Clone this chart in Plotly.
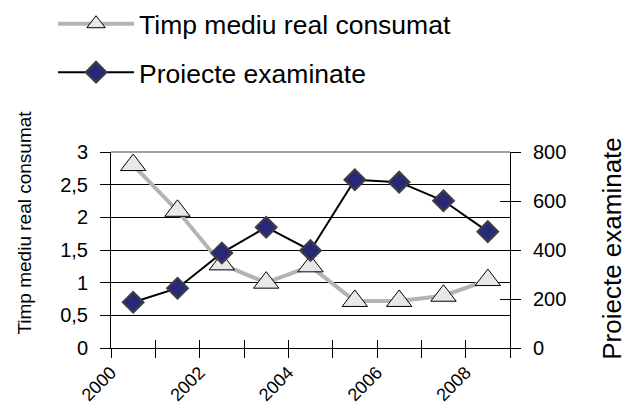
import plotly.graph_objects as go

years = [2000, 2001, 2002, 2003, 2004, 2005, 2006, 2007, 2008]
timp_mediu = [2.8, 2.1, 1.28, 1.0, 1.25, 0.72, 0.72, 0.8, 1.04]
proiecte = [187, 244, 388, 493, 398, 687, 677, 601, 475]

x_tick_vals = list(range(2000, 2010))
x_tick_text = [str(v) if v % 2 == 0 else "" for v in x_tick_vals]
left_ticks = [0, 0.5, 1, 1.5, 2, 2.5, 3]
left_tick_text = ["0", "0,5", "1", "1,5", "2", "2,5", "3"]
right_ticks = [0, 200, 400, 600, 800]

FONT = "Liberation Sans, Arial, sans-serif"
xs = [y + 0.5 for y in years]

W, H = 624, 406

fig = go.Figure()
fig.add_trace(go.Scatter(
    x=xs, y=timp_mediu, name="Timp mediu real consumat",
    mode="lines+markers", legendgroup="a",
    line=dict(color="#B4B4B4", width=4),
    marker=dict(symbol="triangle-up", size=22, color="#E8E8E8",
                line=dict(color="#000000", width=1)),
    xaxis="x", yaxis="y",
))
fig.add_trace(go.Scatter(
    x=xs, y=proiecte, name="Proiecte examinate",
    mode="lines+markers", legendgroup="b",
    line=dict(color="#000000", width=2),
    marker=dict(symbol="diamond", size=16, color="#282878",
                line=dict(color="#404040", width=2)),
    xaxis="x", yaxis="y2",
))

fig.update_layout(
    width=W, height=H,
    margin=dict(l=111, r=114, t=152, b=58, autoexpand=False),
    paper_bgcolor="white", plot_bgcolor="white",
    font=dict(family=FONT, color="black", size=20),
    showlegend=True,
    legend=dict(
        xref="container", yref="container", x=0.085, y=1.0,
        xanchor="left", yanchor="top",
        font=dict(size=26.5, family=FONT),
        traceorder="grouped", tracegroupgap=11,
        itemwidth=76, bgcolor="rgba(0,0,0,0)",
    ),
    xaxis=dict(
        range=[2000, 2009], tickmode="array", tickvals=x_tick_vals,
        ticktext=x_tick_text, tickangle=-45, ticks="outside", ticklen=9,
        tickcolor="black", showline=True, linecolor="black", linewidth=1,
        showgrid=False, zeroline=False, tickfont=dict(size=18),
        ticklabelstandoff=-3,
    ),
    xaxis2=dict(
        range=[2000, 2009], overlaying="x", tickmode="array",
        tickvals=x_tick_vals, showticklabels=False, ticks="inside",
        ticklen=8, tickcolor="black", showgrid=False, zeroline=False,
        showline=False,
    ),
    yaxis=dict(
        range=[0, 3], tickmode="array", tickvals=left_ticks,
        ticktext=left_tick_text, ticks="outside", ticklen=10, tickcolor="black",
        showline=True, linecolor="black", linewidth=1,
        showgrid=True, gridcolor="black", gridwidth=1, zeroline=False,
        tickfont=dict(size=20), ticklabelstandoff=8,
    ),
    yaxis2=dict(
        range=[0, 800], overlaying="y", side="right", tickmode="array",
        tickvals=right_ticks, ticks="outside", ticklen=10, tickcolor="black",
        showline=True, linecolor="black", linewidth=1, showgrid=False,
        zeroline=False, tickfont=dict(size=20), ticklabelstandoff=8,
    ),
    yaxis3=dict(
        range=[0, 800], overlaying="y", side="right", tickmode="array",
        tickvals=right_ticks, ticks="inside", ticklen=10, tickcolor="black",
        showticklabels=False, showline=False, showgrid=False, zeroline=False,
    ),
    shapes=[dict(type="line", xref="paper", yref="paper", x0=0, x1=1,
                 y0=1, y1=1, line=dict(color="#A0A0A0", width=2),
                 layer="between")],
    annotations=[
        dict(text="Timp mediu real consumat", xref="paper", yref="paper",
             x=-0.2155, y=0.64, textangle=-90, showarrow=False,
             font=dict(size=19, family=FONT), xanchor="center",
             yanchor="middle"),
        dict(text="Proiecte examinate", xref="paper", yref="paper",
             x=1.255, y=0.51, textangle=-90, showarrow=False,
             font=dict(size=26, family=FONT), xanchor="center",
             yanchor="middle"),
    ],
)

# dummy trace to activate overlay tick axes
fig.add_trace(go.Scatter(x=[None], y=[None], xaxis="x2", yaxis="y3",
                         showlegend=False, hoverinfo="skip"))

fig.write_html(
    "out.html",
    config={"displayModeBar": False},
    post_script="document.body.style.margin='0';document.body.style.overflow='hidden';",
)
